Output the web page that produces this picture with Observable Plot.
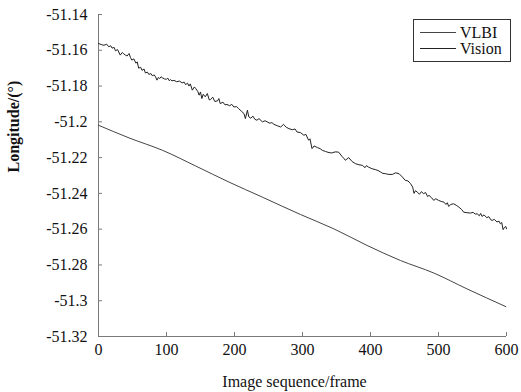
<!DOCTYPE html>
<html>
<head>
<meta charset="utf-8">
<script src="https://cdn.jsdelivr.net/npm/d3@7"></script>
<script src="https://cdn.jsdelivr.net/npm/@observablehq/plot@0.6"></script>
<style>
  html, body { margin: 0; padding: 0; background: #fff; }
  #chart { width: 521px; height: 392px; }
</style>
</head>
<body>
<div id="chart"></div>
<script>
const seriesNames = ["VLBI", "Vision"];
const xTicks = [0, 100, 200, 300, 400, 500, 600];
const yTicks = [-51.32, -51.3, -51.28, -51.26, -51.24, -51.22, -51.2, -51.18, -51.16, -51.14];
const xLabel = "Image sequence/frame";
const yLabel = "Longitude/(°)";

const vlbiFrames = [0, 45, 94, 143, 192, 241, 297, 346, 395, 444, 493, 542, 599];
const vlbiValues = [-51.2019, -51.2090, -51.2159, -51.2247, -51.2337, -51.2421, -51.2518, -51.2598, -51.2691, -51.2775, -51.2845, -51.2934, -51.3033];

const visionFrames = [0, 4, 8, 12, 15, 18, 20, 23, 25, 28, 32, 35, 37, 40, 42, 45, 47, 49, 52, 55, 57, 59, 62, 64, 67, 69, 72, 74, 77, 79, 82, 84, 86, 88, 90, 92, 94, 97, 100, 102, 104, 106, 108, 111, 115, 119, 123, 126, 128, 131, 133, 135, 138, 141, 143, 146, 148, 150, 152, 154, 157, 160, 163, 165, 168, 171, 175, 177, 179, 183, 186, 189, 193, 196, 199, 203, 206, 210, 214, 216, 219, 221, 224, 227, 230, 233, 236, 241, 245, 248, 252, 255, 258, 263, 268, 272, 276, 280, 285, 289, 292, 297, 302, 305, 309, 311, 314, 317, 322, 326, 329, 334, 339, 343, 348, 353, 358, 361, 363, 368, 373, 378, 383, 388, 392, 394, 397, 402, 407, 411, 415, 418, 422, 427, 432, 437, 442, 447, 451, 455, 459, 462, 464, 466, 469, 472, 475, 478, 481, 484, 486, 490, 493, 496, 500, 504, 508, 511, 513, 515, 518, 522, 526, 530, 534, 537, 542, 547, 551, 554, 557, 560, 562, 564, 567, 571, 574, 577, 579, 582, 586, 589, 591, 593, 595, 597, 599, 600];
const visionValues = [-51.1562, -51.1568, -51.1572, -51.1566, -51.1580, -51.1575, -51.1588, -51.1584, -51.1603, -51.1596, -51.1627, -51.1612, -51.1620, -51.1628, -51.1632, -51.1618, -51.1640, -51.1655, -51.1648, -51.1672, -51.1665, -51.1700, -51.1695, -51.1712, -51.1705, -51.1727, -51.1722, -51.1735, -51.1730, -51.1742, -51.1738, -51.1749, -51.1767, -51.1752, -51.1758, -51.1748, -51.1754, -51.1760, -51.1762, -51.1756, -51.1770, -51.1764, -51.1771, -51.1768, -51.1776, -51.1772, -51.1782, -51.1778, -51.1792, -51.1784, -51.1800, -51.1788, -51.1823, -51.1805, -51.1814, -51.1830, -51.1851, -51.1833, -51.1870, -51.1846, -51.1860, -51.1842, -51.1878, -51.1875, -51.1862, -51.1886, -51.1883, -51.1870, -51.1898, -51.1890, -51.1905, -51.1903, -51.1910, -51.1902, -51.1917, -51.1915, -51.1926, -51.1940, -51.1954, -51.1982, -51.1935, -51.1972, -51.1980, -51.1968, -51.1986, -51.1991, -51.1982, -51.2000, -51.1994, -51.2000, -51.2008, -51.2004, -51.2014, -51.2022, -51.2029, -51.2014, -51.2030, -51.2038, -51.2044, -51.2040, -51.2057, -51.2060, -51.2075, -51.2070, -51.2103, -51.2095, -51.2150, -51.2135, -51.2144, -51.2150, -51.2159, -51.2166, -51.2172, -51.2174, -51.2168, -51.2169, -51.2193, -51.2205, -51.2215, -51.2200, -51.2222, -51.2234, -51.2240, -51.2243, -51.2256, -51.2245, -51.2253, -51.2262, -51.2267, -51.2272, -51.2281, -51.2288, -51.2290, -51.2294, -51.2294, -51.2285, -51.2290, -51.2309, -51.2327, -51.2330, -51.2346, -51.2365, -51.2400, -51.2385, -51.2393, -51.2405, -51.2390, -51.2402, -51.2395, -51.2418, -51.2411, -51.2425, -51.2439, -51.2430, -51.2439, -51.2445, -51.2449, -51.2462, -51.2452, -51.2473, -51.2462, -51.2458, -51.2466, -51.2477, -51.2490, -51.2505, -51.2508, -51.2510, -51.2506, -51.2516, -51.2514, -51.2525, -51.2512, -51.2529, -51.2520, -51.2536, -51.2530, -51.2548, -51.2551, -51.2545, -51.2560, -51.2555, -51.2570, -51.2563, -51.2603, -51.2590, -51.2585, -51.2598];

const vlbi = vlbiFrames.map((f, i) => ({frame: f, value: vlbiValues[i]}));
const vision = visionFrames.map((f, i) => ({frame: f, value: visionValues[i]}));

const fontFamily = "\"Liberation Serif\", \"Times New Roman\", serif";
const axisColor = "#7a7a7a";

const chart = Plot.plot({
  width: 521,
  height: 392,
  marginLeft: 98,
  marginRight: 15,
  marginTop: 14,
  marginBottom: 56,
  style: {fontFamily, fontSize: "16px", color: "#111", background: "#fff"},
  x: {domain: [0, 600]},
  y: {domain: [-51.32, -51.14]},
  marks: [
    Plot.axisX({ticks: xTicks, tickSize: -4, tickPadding: 11, tickFormat: d => String(d), label: null, stroke: axisColor, fill: "#111"}),
    Plot.axisY({ticks: yTicks, tickSize: -4, tickPadding: 15, tickFormat: d => String(d), label: null, stroke: axisColor, fill: "#111"}),
    Plot.ruleX([0], {stroke: axisColor}),
    Plot.ruleY([-51.32], {stroke: axisColor}),
    Plot.line(vlbi, {x: "frame", y: "value", stroke: "#444", strokeWidth: 1, curve: "monotone-x"}),
    Plot.line(vision, {x: "frame", y: "value", stroke: "#222", strokeWidth: 1}),
    Plot.text([xLabel], {frameAnchor: "bottom", lineAnchor: "middle", dy: 45, dx: -8, text: d => d, fill: "#111", fontSize: 16}),
    Plot.text([yLabel], {frameAnchor: "left", lineAnchor: "middle", dx: -85, dy: -3, rotate: -90, text: d => d, fill: "#111", fontSize: 16, fontWeight: "bold"})
  ]
});

document.getElementById("chart").appendChild(chart);

// Legend (inside plot area, top-right)
const svg = d3.select(chart);
const lg = svg.append("g").attr("font-size", 16).attr("text-anchor", "start");
lg.append("rect").attr("x", 413.5).attr("y", 19.5).attr("width", 97).attr("height", 42)
  .attr("fill", "#fff").attr("stroke", "#333").attr("stroke-width", 1);
const legendStrokes = ["#444", "#222"];
seriesNames.forEach((name, i) => {
  const yy = 32 + i * 16;
  lg.append("line").attr("x1", 420).attr("x2", 456).attr("y1", yy + 0.5).attr("y2", yy + 0.5)
    .attr("stroke", legendStrokes[i]).attr("stroke-width", 1);
  lg.append("text").attr("x", 460).attr("y", yy + 6).attr("text-anchor", "start").attr("fill", "#111").text(name);
});
</script>
</body>
</html>
